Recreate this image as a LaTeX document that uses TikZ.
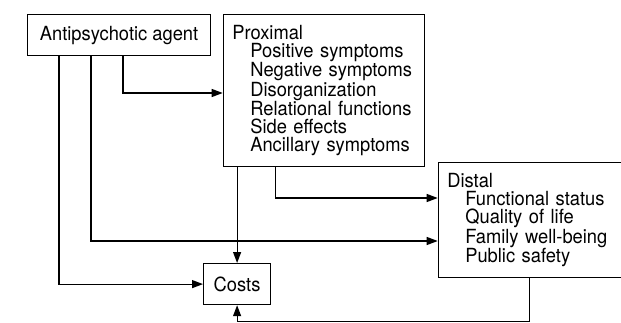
\documentclass[tikz,border=0pt]{standalone}
\usepackage{fontspec}
\setmainfont{TeX Gyre Heros}[FakeStretch=0.94]
\usetikzlibrary{arrows.meta}
\tikzset{
  box/.style      = {shape=rectangle, draw, line width=1.2pt,
                     font=\fontsize{19.5}{18.1}\selectfont},
  listbox/.style  = {box, anchor=north west, align=left,
                     inner xsep=9pt, inner ysep=0pt},
  flow/.style     = {draw, line width=1.2pt,
                     -{Triangle[length=11pt,width=8pt]}}
}
\newcommand{\sub}{\hspace*{18pt}}

\begin{document}
\begin{tikzpicture}
  [
    x = 1pt,
    y = -1pt
  ]
  \useasboundingbox (0,0) rectangle (621,323);

  \node [box, anchor=north west, minimum width=183pt, minimum height=41pt,
         inner sep=0pt] (agent) at (27,14) {Antipsychotic agent};
  \node [listbox, text width=183pt, minimum height=152pt] (prox) at (222.7,14)
        {Proximal\\ \sub Positive symptoms\\ \sub Negative symptoms\\
         \sub Disorganization\\ \sub Relational functions\\
         \sub Side effects\\ \sub Ancillary symptoms};
  \node [listbox, text width=165pt, minimum height=115pt] (distal) at (437.7,162)
        {Distal\\ \sub Functional status\\ \sub Quality of life\\
         \sub Family well-being\\ \sub Public safety};
  \node [box, anchor=north west, minimum width=67pt, minimum height=41pt,
         inner sep=0pt] (costs) at (203,263) {Costs};

  % from the agent
  \draw [flow] (agent.south -| 123,0) |- (prox.west |- 0,93);
  \draw [flow] (agent.south -| 91,0) |- (distal.west |- 0,241);
  \draw [flow] (agent.south -| 59,0) |- (costs.west);
  % from proximal
  \draw [flow] (prox.south -| costs.north) -- (costs.north);
  \draw [flow] (prox.south -| 275.7,0) |- (distal.west |- 0,198);
  % from distal
  \draw [flow] (distal.south) -- (distal.south |- 0,321.7) -| (costs.south);
\end{tikzpicture}
\end{document}
